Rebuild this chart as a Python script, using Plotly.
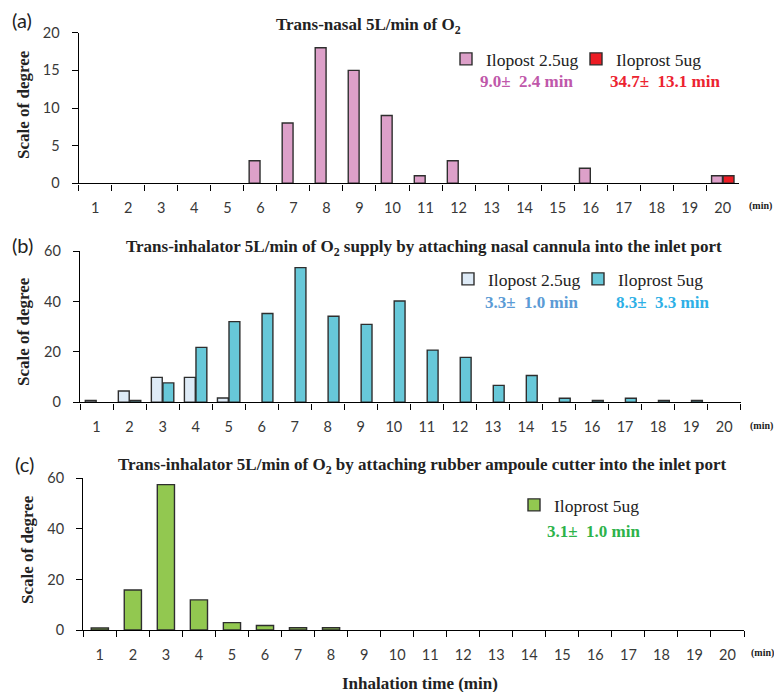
import plotly.graph_objects as go

W, H = 774, 692

minutes = [str(m) for m in range(1, 21)]

# Panel (a) trans-nasal
a_ilo25 = [0, 0, 0, 0, 0, 3, 8, 18, 15, 9, 1, 3, 0, 0, 0, 2, 0, 0, 0, 1]
a_ilo5 = [0, 0, 0, 0, 0, 0, 0, 0, 0, 0, 0, 0, 0, 0, 0, 0, 0, 0, 0, 1]
# Panel (b) trans-inhalator, nasal cannula
b_ilo25 = [0.7, 4.5, 9.9, 9.9, 1.7, 0, 0, 0, 0, 0, 0, 0, 0, 0, 0, 0, 0, 0, 0, 0]
b_ilo5 = [0, 0.7, 7.7, 21.8, 32, 35.2, 53.4, 34.1, 30.9, 40.2, 20.7, 17.8, 6.7, 10.6, 1.6, 0.7, 1.6, 0.7, 0.7, 0]
# Panel (c) trans-inhalator, rubber ampoule cutter
c_ilo5 = [0.8, 15.8, 57.5, 11.9, 2.9, 1.8, 0.9, 0.9, 0, 0, 0, 0, 0, 0, 0, 0, 0, 0, 0, 0]

a_yticks = [0, 5, 10, 15, 20]
bc_yticks = [0, 20, 40, 60]

titles = [
    "Trans-nasal 5L/min of O<sub>2</sub>",
    "Trans-inhalator 5L/min of O<sub>2</sub> supply by attaching nasal cannula into the inlet port",
    "Trans-inhalator 5L/min of O<sub>2</sub> by attaching rubber ampoule cutter into the inlet port",
]
stats = ["9.0±  2.4 min", "34.7±  13.1 min", "3.3±  1.0 min", "8.3±  3.3 min", "3.1±  1.0 min"]

PINK, RED, LIGHTBLUE, CYAN, GREEN = "#dda0c9", "#ec1c24", "#deebf7", "#67c8d9", "#92c850"
OUTLINE = dict(color="#2e2e2e", width=1.4)


def nz(vals):
    # zero counts are simply not drawn
    return [v if v else None for v in vals]


def px_x(x):
    return x / W


def px_y(y):
    return (H - y) / H


fig = go.Figure()
fig.add_trace(go.Bar(x=minutes, y=nz(a_ilo25), name="Ilopost 2.5ug", marker=dict(color=PINK, line=OUTLINE),
                     xaxis="x", yaxis="y", legend="legend"))
fig.add_trace(go.Bar(x=minutes, y=nz(a_ilo5), name="Iloprost 5ug", marker=dict(color=RED, line=OUTLINE),
                     xaxis="x", yaxis="y", legend="legend"))
fig.add_trace(go.Bar(x=minutes, y=nz(b_ilo25), name="Ilopost 2.5ug", marker=dict(color=LIGHTBLUE, line=OUTLINE),
                     xaxis="x2", yaxis="y2", legend="legend2"))
fig.add_trace(go.Bar(x=minutes, y=nz(b_ilo5), name="Iloprost 5ug", marker=dict(color=CYAN, line=OUTLINE),
                     xaxis="x2", yaxis="y2", legend="legend2"))
fig.add_trace(go.Bar(x=minutes, y=nz(c_ilo5), name="Iloprost 5ug", width=0.52, marker=dict(color=GREEN, line=OUTLINE),
                     xaxis="x3", yaxis="y3", legend="legend3"))

tickfont = dict(family="Lato, Open Sans, sans-serif", size=14.5, color="#383838")


def xax(x0, x1, anchor):
    return dict(type="category", categoryorder="array", categoryarray=minutes,
                range=[-0.5, 19.5], domain=[px_x(x0), px_x(x1)], anchor=anchor,
                tickson="boundaries", ticks="outside", ticklen=6, tickwidth=1.2, tickcolor="#000",
                showline=True, linecolor="#000", linewidth=1.4, showgrid=False, zeroline=False,
                tickfont=tickfont, ticklabelstandoff=11, automargin=False)


def yax(y_top, y_bot, rng, tv, anchor):
    return dict(range=rng, tickvals=tv, domain=[px_y(y_bot), px_y(y_top)], anchor=anchor,
                ticks="outside", ticklen=6, tickwidth=1.2, tickcolor="#000",
                showline=True, linecolor="#000", linewidth=1.4, showgrid=False, zeroline=False,
                tickfont=tickfont, ticklabelstandoff=9, automargin=False)


serif = "Liberation Serif, Times New Roman, serif"
sans = "Lato, Open Sans, sans-serif"

annotations = []


def ann(text, x, y, size, color="#222", bold=False, family=serif, angle=0, xanchor="center"):
    t = f"<b>{text}</b>" if bold else text
    annotations.append(dict(text=t, x=px_x(x), y=px_y(y), xref="paper", yref="paper",
                            showarrow=False, xanchor=xanchor, yanchor="middle", textangle=angle,
                            font=dict(family=family, size=size, color=color)))


# titles
ann(titles[0], 368, 26, 17, bold=True)
ann(titles[1], 424, 248, 17, bold=True)
ann(titles[2], 422, 466, 17, bold=True)
# panel labels
ann("(a)", 22, 20, 20, color="#222", family=sans)
ann("(b)", 22, 245, 20, color="#222", family=sans)
ann("(c)", 25, 464, 20, color="#222", family=sans)
# y titles
ann("Scale of degree", 23, 105, 17, bold=True, angle=-90)
ann("Scale of degree", 23, 332, 17, bold=True, angle=-90)
ann("Scale of degree", 27, 550, 17, bold=True, angle=-90)
# stats
ann(stats[0], 526, 82, 17, color="#bf58aa", bold=True)
ann(stats[1], 665, 82, 17, color="#ec2330", bold=True)
ann(stats[2], 531, 302, 17, color="#5b9bd5", bold=True)
ann(stats[3], 662, 302, 17, color="#2eb0e6", bold=True)
ann(stats[4], 593, 531, 17, color="#2db34a", bold=True)
# (min)
ann("(min)", 747, 206, 10, bold=True, xanchor="left")
ann("(min)", 748, 426, 10, bold=True, xanchor="left")
ann("(min)", 749, 653, 10, bold=True, xanchor="left")
# x title
ann("Inhalation time (min)", 420, 683, 17, bold=True)

legfont = dict(family=serif, size=17.5, color="#222")


def leg(x, y):
    return dict(orientation="h", x=px_x(x), y=px_y(y), xanchor="left", yanchor="middle",
                font=legfont, bgcolor="rgba(0,0,0,0)", entrywidth=85, traceorder="normal",
                itemclick=False)


fig.update_layout(
    width=W, height=H, margin=dict(l=0, r=0, t=0, b=0, autoexpand=False),
    paper_bgcolor="white", plot_bgcolor="white",
    barmode="group", bargap=0.3, bargroupgap=0.06,
    xaxis=xax(78.7, 739.3, "y"), yaxis=yax(32.7, 183.3, [0, 20], a_yticks, "x"),
    xaxis2=xax(80, 740.7, "y2"), yaxis2=yax(251, 402.3, [0, 60], bc_yticks, "x2"),
    xaxis3=xax(83.3, 744, "y3"), yaxis3=yax(478.3, 630, [0, 60], bc_yticks, "x3"),
    legend=leg(446, 59), legend2=leg(448, 279), legend3=leg(514, 505),
    annotations=annotations, showlegend=True,
)

fig.write_html("out.html", config={"displayModeBar": False},
               post_script="document.body.style.margin='0';")
